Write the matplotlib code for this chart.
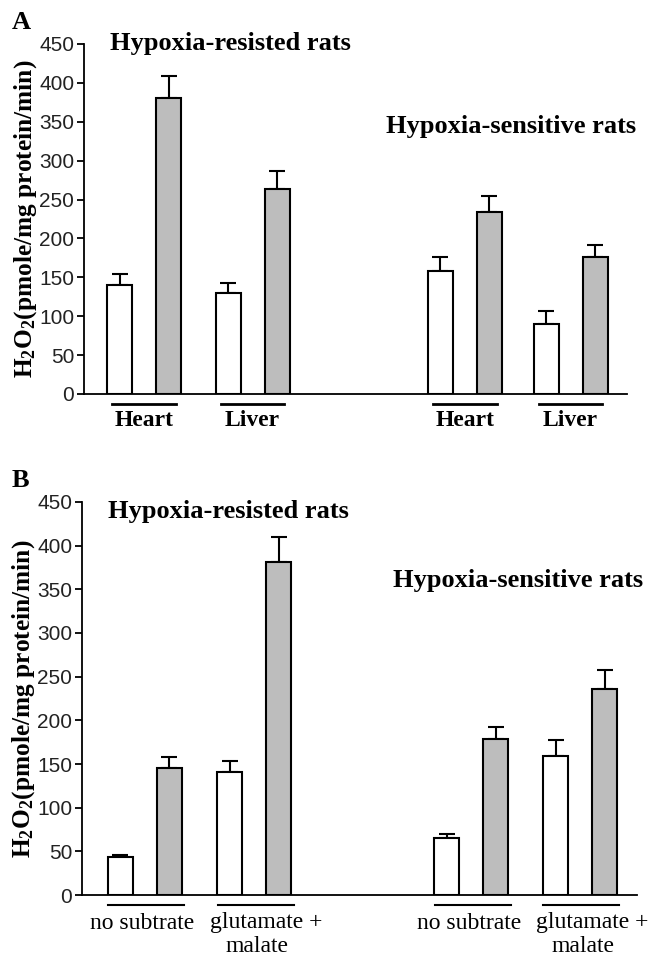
import numpy as np
import matplotlib.pyplot as plt

serif = "Liberation Serif"
sans = "Liberation Sans"
plt.rcParams["mathtext.fontset"] = "custom"
plt.rcParams["mathtext.rm"] = serif
plt.rcParams["mathtext.bf"] = serif + ":bold"

# Panel A values
tissues = ["Heart", "Liver", "Heart", "Liver"]
a_white = [140, 130, 158, 90]
a_white_err = [14, 13, 18, 17]
a_gray = [380, 264, 234, 176]
a_gray_err = [29, 23, 20, 16]

# Panel B values
substrates = ["no subtrate", "glutamate +\nmalate", "no subtrate", "glutamate +\nmalate"]
b_white = [44, 141, 65, 159]
b_white_err = [2, 12, 5, 19]
b_gray = [145, 381, 179, 236]
b_gray_err = [13, 29, 13, 22]

group_titles = ["Hypoxia-resisted rats", "Hypoxia-sensitive rats"]
yticks = [0, 50, 100, 150, 200, 250, 300, 350, 400, 450]

GRAY = "#bdbdbd"

fig = plt.figure(figsize=(6.49, 9.56), dpi=100)
axA = fig.add_axes([0.1294, 0.5879, 0.8367, 0.3661])
axB = fig.add_axes([0.1263, 0.0638, 0.8550, 0.4111])

# layout (x positions in axis units)
posA = [0.73, 2.94, 7.27, 9.43]
posB = [0.78, 3.02, 7.45, 9.67]
xlimA = 11.08
xlimB = 11.33
width = 0.51


def draw(ax, pos, white, werr, gray, gerr, xmax):
    pos = np.array(pos)
    for x, v, e in zip(pos, white, werr):
        ax.bar(x, v, width, color="white", edgecolor="black", linewidth=1.5, zorder=2)
        ax.errorbar(x, v, yerr=[[0], [e]], fmt="none", ecolor="black",
                    elinewidth=1.5, capsize=6, capthick=1.5, zorder=1)
    for x, v, e in zip(pos + 1.0, gray, gerr):
        ax.bar(x, v, width, color=GRAY, edgecolor="black", linewidth=1.5, zorder=2)
        ax.errorbar(x, v, yerr=[[0], [e]], fmt="none", ecolor="black",
                    elinewidth=1.5, capsize=6, capthick=1.5, zorder=1)
    ax.set_xlim(0, xmax)
    ax.set_ylim(0, 450)
    ax.set_yticks(yticks)
    ax.set_xticks([])
    for s in ["top", "right"]:
        ax.spines[s].set_visible(False)
    ax.spines["left"].set_linewidth(1.3)
    ax.spines["bottom"].set_linewidth(1.3)
    ax.tick_params(axis="y", length=5, width=1.3, labelsize=15, pad=2)
    for lab in ax.get_yticklabels():
        lab.set_fontfamily(sans)
        lab.set_color("#222222")
    ax.set_ylabel(r"$\mathbf{H_2O_2}$(pmole/mg protein/min)", fontsize=18.3,
                  fontweight="bold", fontfamily=serif, labelpad=0)


draw(axA, posA, a_white, a_white_err, a_gray, a_gray_err, xlimA)
draw(axB, posB, b_white, b_white_err, b_gray, b_gray_err, xlimB)

# group underlines and labels
trA = axA.get_xaxis_transform()
for x, name in zip(posA, tissues):
    axA.plot([x - 0.15, x + 1.15], [-0.029, -0.029], color="black", lw=2,
             transform=trA, clip_on=False)
    axA.text(x + 0.5, -0.077, name, transform=trA, ha="center", va="center",
             fontsize=17, fontweight="bold", fontfamily=serif)

trB = axB.get_xaxis_transform()
for x, name in zip(posB, substrates):
    axB.plot([x - 0.25, x + 1.3], [-0.025, -0.025], color="black", lw=1.5,
             transform=trB, clip_on=False)
    lines = name.split("\n")
    if len(lines) == 1:
        axB.text(x + 0.45, -0.072, lines[0], transform=trB, ha="center",
                 va="center", fontsize=17, fontfamily=serif)
    else:
        axB.text(x - 0.4, -0.071, lines[0], transform=trB, ha="left",
                 va="center", fontsize=17, fontfamily=serif)
        axB.text(x + 0.55, -0.131, lines[1], transform=trB, ha="center",
                 va="center", fontsize=17, fontfamily=serif)

# group titles
axA.text(0.047, 1.0, group_titles[0], transform=axA.transAxes, ha="left",
         va="center", fontsize=19, fontweight="bold", fontfamily=serif)
axA.text(0.556, 0.763, group_titles[1], transform=axA.transAxes, ha="left",
         va="center", fontsize=19, fontweight="bold", fontfamily=serif)
axB.text(0.047, 0.975, group_titles[0], transform=axB.transAxes, ha="left",
         va="center", fontsize=19, fontweight="bold", fontfamily=serif)
axB.text(0.56, 0.80, group_titles[1], transform=axB.transAxes, ha="left",
         va="center", fontsize=19, fontweight="bold", fontfamily=serif)

# panel letters
fig.text(0.018, 0.976, "A", ha="left", va="center", fontsize=19,
         fontweight="bold", fontfamily=serif)
fig.text(0.018, 0.497, "B", ha="left", va="center", fontsize=19,
         fontweight="bold", fontfamily=serif)

fig.savefig("out.png", dpi=100)
